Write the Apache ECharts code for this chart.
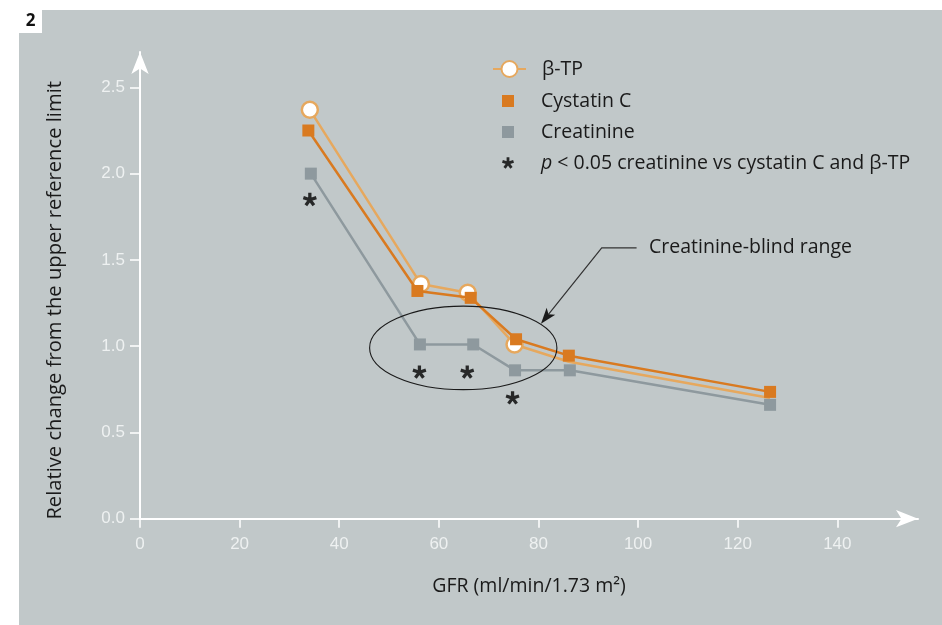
<!DOCTYPE html>
<html><head><meta charset="utf-8">
<script src="https://cdn.jsdelivr.net/npm/echarts@6/dist/echarts.min.js"></script>
<style>html,body{margin:0;padding:0;background:#fff}#c{width:942px;height:625px}</style>
</head><body><div id="c"></div>
<script>
// ---- data ----
const xTicks = [0, 20, 40, 60, 80, 100, 120, 140];
const yTicks = [0, 0.5, 1.0, 1.5, 2.0, 2.5];
const seriesNames = ['β-TP', 'Cystatin C', 'Creatinine', 'p < 0.05 creatinine vs cystatin C and β-TP'];
const btpX = [34.1, 56.4, 65.8, 75.2, 86.1, 126.5];
const btpY = [2.37, 1.36, 1.31, 1.01, 0.91, 0.70];
const btpMarked = [true, true, true, true, false, false];
const cysX = [33.8, 55.7, 66.4, 75.5, 86.1, 126.5];
const cysY = [2.25, 1.32, 1.28, 1.04, 0.945, 0.735];
const creX = [34.3, 56.2, 66.9, 75.3, 86.3, 126.5];
const creY = [2.00, 1.01, 1.01, 0.86, 0.86, 0.66];
const starX = [34.1, 56.1, 65.7, 74.8];
const starY = [1.85, 0.85, 0.85, 0.70];
const annotationText = 'Creatinine-blind range';
const ellipseCenter = [64.9, 0.99];
const ellipseRadii = [18.8, 0.242];
const leaderPts = [[99.7, 1.57], [92.7, 1.57], [80.5, 1.13]];
const leaderTextAt = [102.2, 1.57];
const xTitle = 'GFR (ml/min/1.73 m²)';
const yTitle = 'Relative change from the upper reference limit';
const panelLabel = '2';

// ---- styles ----
const PANEL = '#c1c8c9';
const DARK = '#d97a20';
const LIGHT = '#e6a85e';
const GREY = '#8e999e';
const INK = '#1a1a1a';
const TICKC = '#eef1f1';
const MAINFONT = '"Open Sans", "Noto Sans", sans-serif';
const TICKFONT = '"Liberation Sans", "DejaVu Sans", sans-serif';
const FS = 19.5;

function starPath() {
  const hw = 0.24, parts = [];
  for (let k = 0; k < 5; k++) {
    const a = (-90 + 72 * k) * Math.PI / 180;
    const d = [Math.cos(a), Math.sin(a)], p = [-Math.sin(a), Math.cos(a)];
    const c = [[hw * p[0], hw * p[1]], [d[0] + hw * p[0], d[1] + hw * p[1]],
               [d[0] - hw * p[0], d[1] - hw * p[1]], [-hw * p[0], -hw * p[1]]];
    parts.push('M' + c.map(q => (q[0] + 1).toFixed(3) + ',' + (q[1] + 1).toFixed(3)).join('L') + 'Z');
  }
  return 'path://' + parts.join('');
}
const STAR = starPath();
const SQ = 'path://M0,0L1,0L1,1L0,1Z';

function renderAnno(params, api) {
  const c = api.coord(ellipseCenter);
  const e = api.coord([ellipseCenter[0] + ellipseRadii[0], ellipseCenter[1] + ellipseRadii[1]]);
  const rx = Math.abs(e[0] - c[0]), ry = Math.abs(e[1] - c[1]);
  const pts = leaderPts.map(p => api.coord(p));
  const tip = pts[pts.length - 1], prev = pts[pts.length - 2];
  const dx = tip[0] - prev[0], dy = tip[1] - prev[1], L = Math.hypot(dx, dy);
  const ux = dx / L, uy = dy / L, px = -uy, py = ux;
  const len = 16, hw = 5.5, notch = 4;
  const base = [tip[0] - ux * len, tip[1] - uy * len];
  const nPt = [tip[0] - ux * (len - notch), tip[1] - uy * (len - notch)];
  const linePts = pts.slice(0, -1).concat([nPt]);
  const t = api.coord(leaderTextAt);
  return {
    type: 'group',
    children: [
      { type: 'ellipse', shape: { cx: c[0], cy: c[1], rx: rx, ry: ry },
        style: { fill: 'none', stroke: INK, lineWidth: 1.1 } },
      { type: 'polyline', shape: { points: linePts },
        style: { fill: 'none', stroke: '#333', lineWidth: 1.2 } },
      { type: 'polygon', shape: { points: [tip, [base[0] + px * hw, base[1] + py * hw], nPt, [base[0] - px * hw, base[1] - py * hw]] },
        style: { fill: INK } },
      { type: 'text', x: t[0], y: t[1],
        style: { text: annotationText, fill: INK, fontSize: FS, fontFamily: MAINFONT, align: 'left', verticalAlign: 'middle' } }
    ]
  };
}

const chart = echarts.init(document.getElementById('c'), null, { renderer: 'canvas' });
function legendRich(spacer) {
  return {
    s: { width: spacer, height: 20 },
    t: { color: INK, fontSize: FS, fontFamily: MAINFONT, lineHeight: 20 },
    i: { fontStyle: 'italic', color: INK, fontSize: FS, fontFamily: MAINFONT, lineHeight: 20 }
  };
}
function legendFmt(n) {
  if (n === seriesNames[3]) return '{s|}{i|p}{t| < 0.05 creatinine vs cystatin C and β-TP}';
  return '{s|}{t|' + n + '}';
}

chart.setOption({
  animation: false,
  backgroundColor: '#fff',
  graphic: [
    { type: 'rect', z: -100, shape: { x: 19, y: 10, width: 923, height: 615 }, style: { fill: PANEL } },
    { type: 'rect', z: -99, shape: { x: 19, y: 10, width: 23, height: 23 }, style: { fill: '#fff' } },
    { type: 'text', z: -98, x: 30.5, y: 21.5, style: { text: panelLabel, fill: '#111', fontSize: 17, fontWeight: 'bold', fontFamily: MAINFONT, align: 'center', verticalAlign: 'middle' } }
  ],
  grid: { left: 140, top: 52, right: 24, bottom: 106.3, outerBoundsMode: 'none' },
  legend: [
    { data: [seriesNames[0]], orient: 'vertical', left: 492, top: 59, padding: 0, itemWidth: 33, itemHeight: 20,
      textStyle: { color: INK, fontSize: FS, fontFamily: MAINFONT, lineHeight: 20, rich: legendRich(11) },
      formatter: legendFmt, selectedMode: false },
    { data: [{ name: seriesNames[1], icon: SQ }, { name: seriesNames[2], icon: SQ }, { name: seriesNames[3], icon: STAR }],
      orient: 'vertical', left: 502, top: 91, padding: 0, itemWidth: 12, itemHeight: 12, itemGap: 11,
      textStyle: { color: INK, fontSize: FS, fontFamily: MAINFONT, lineHeight: 20, rich: legendRich(22) },
      formatter: legendFmt, selectedMode: false }
  ],
  xAxis: {
    type: 'value', min: 0, max: 156.2,
    name: xTitle, nameLocation: 'middle', nameGap: 58,
    nameTextStyle: { color: INK, fontSize: FS, fontFamily: MAINFONT },
    axisLine: { show: true, onZero: false, symbol: ['none', 'arrow'], symbolSize: [13, 22], lineStyle: { color: '#fff', width: 2 } },
    axisTick: { show: true, length: 9, customValues: xTicks, lineStyle: { color: '#fff', width: 1.5 } },
    axisLabel: { customValues: xTicks, color: TICKC, fontSize: 17, fontFamily: TICKFONT, margin: 17 },
    splitLine: { show: false }
  },
  yAxis: {
    type: 'value', min: 0, max: 2.705,
    name: yTitle, nameLocation: 'middle', nameGap: 75, nameRotate: 90,
    nameTextStyle: { color: INK, fontSize: 20.2, fontFamily: MAINFONT, padding: [0, 30, 0, 0] },
    axisLine: { show: true, onZero: false, symbol: ['none', 'arrow'], symbolSize: [13, 22], lineStyle: { color: '#fff', width: 2 } },
    axisTick: { show: true, length: 10, customValues: yTicks, lineStyle: { color: '#fff', width: 1.5 } },
    axisLabel: { customValues: yTicks, color: TICKC, fontSize: 17, fontFamily: TICKFONT, margin: 15, formatter: v => v.toFixed(1) },
    splitLine: { show: false }
  },
  series: [
    { name: seriesNames[0], type: 'line', z: 2,
      data: btpX.map((x, i) => ({ value: [x, btpY[i]], symbol: btpMarked[i] ? 'circle' : 'none' })),
      symbol: 'circle', symbolSize: 16, showAllSymbol: true,
      itemStyle: { color: '#fff', borderColor: LIGHT, borderWidth: 2.5 },
      lineStyle: { color: LIGHT, width: 2.5 } },
    { name: seriesNames[2], type: 'line', z: 3,
      data: creX.map((x, i) => [x, creY[i]]),
      symbol: 'rect', symbolSize: 12, showAllSymbol: true,
      itemStyle: { color: GREY }, lineStyle: { color: GREY, width: 2.5 } },
    { name: seriesNames[1], type: 'line', z: 4,
      data: cysX.map((x, i) => [x, cysY[i]]),
      symbol: 'rect', symbolSize: 12, showAllSymbol: true,
      itemStyle: { color: DARK }, lineStyle: { color: DARK, width: 2.5 } },
    { name: seriesNames[3], type: 'scatter', z: 5,
      data: starX.map((x, i) => [x, starY[i]]),
      symbol: STAR, symbolSize: 14, symbolKeepAspect: true,
      itemStyle: { color: '#000' } },
    { name: 'annotation', type: 'custom', z: 6, renderItem: renderAnno, data: [[0, 0]], silent: true }
  ]
});
</script></body></html>
